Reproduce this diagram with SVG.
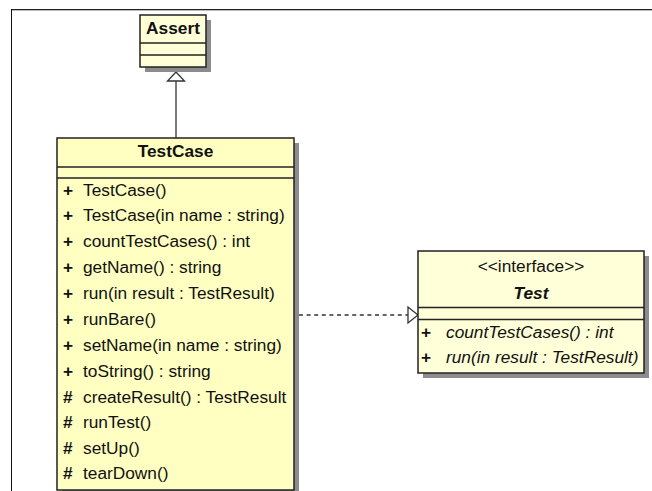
<svg xmlns="http://www.w3.org/2000/svg" width="652" height="491" viewBox="0 0 652 491">
<style>
text{font-family:"Liberation Sans",Arial,sans-serif;font-size:17.3px;fill:#111}
.b{font-weight:bold}
.i{font-style:italic}
.c{text-anchor:middle}
.box{stroke:#222;stroke-width:1.5}
.sh{fill:#8c8c8c}
.dv{stroke:#222;stroke-width:1.5}
.conn{stroke:#333;stroke-width:1.3;fill:none}
.head{stroke:#333;stroke-width:1.3;fill:#fff}
</style>
<g id="frame">
<line x1="11" y1="9.5" x2="652" y2="9.5" stroke="#222" stroke-width="1"/>
<line x1="12" y1="10.5" x2="652" y2="10.5" stroke="#bbb" stroke-width="1"/>
<line x1="11.5" y1="9" x2="11.5" y2="491" stroke="#111" stroke-width="1"/>
</g>
<g id="connectors">
<line class="conn" x1="176" y1="81" x2="176" y2="138"/>
<polygon class="head" points="176,72 167.5,81 184.5,81"/>
<line class="conn" x1="299" y1="315" x2="408" y2="315" stroke-dasharray="4,3.6"/>
<polygon class="head" points="418,315 408,307 408,323"/>
</g>
<g id="Assert">
<rect class="sh" x="145" y="20" width="66" height="52"/>
<rect class="box" x="140" y="15" width="66" height="52" fill="#FFFFD8"/>
<line class="dv" x1="140" y1="43" x2="206" y2="43"/>
<line class="dv" x1="140" y1="55" x2="206" y2="55"/>
<text class="b c" x="173" y="34">Assert</text>
</g>
<g id="TestCase">
<rect class="sh" x="62" y="143" width="237" height="352"/>
<rect class="box" x="57" y="138" width="237" height="352" fill="#FFFFC2"/>
<line class="dv" x1="57" y1="167" x2="294" y2="167"/>
<line class="dv" x1="57" y1="178" x2="294" y2="178"/>
<text class="b c" x="175.5" y="157">TestCase</text>
<g class="b">
<text x="63" y="196">+</text>
<text x="63" y="221">+</text>
<text x="63" y="247">+</text>
<text x="63" y="273">+</text>
<text x="63" y="299">+</text>
<text x="63" y="325">+</text>
<text x="63" y="351">+</text>
<text x="63" y="377">+</text>
<text x="63" y="403">#</text>
<text x="63" y="428">#</text>
<text x="63" y="454">#</text>
<text x="63" y="479">#</text>
</g>
<text x="83" y="196">TestCase()</text>
<text x="83" y="221">TestCase(in name : string)</text>
<text x="83" y="247">countTestCases() : int</text>
<text x="83" y="273">getName() : string</text>
<text x="83" y="299">run(in result : TestResult)</text>
<text x="83" y="325">runBare()</text>
<text x="83" y="351">setName(in name : string)</text>
<text x="83" y="377">toString() : string</text>
<text x="83" y="403">createResult() : TestResult</text>
<text x="83" y="428">runTest()</text>
<text x="83" y="454">setUp()</text>
<text x="83" y="479">tearDown()</text>
</g>
<g id="Test">
<rect class="sh" x="423" y="256" width="226" height="122"/>
<rect class="box" x="418" y="251" width="226" height="122" fill="#FFFFD8"/>
<line class="dv" x1="418" y1="307.5" x2="644" y2="307.5"/>
<line class="dv" x1="418" y1="319.5" x2="644" y2="319.5"/>
<text class="c" x="531" y="272">&lt;&lt;interface&gt;&gt;</text>
<text class="b i c" x="531" y="299">Test</text>
<text class="b" x="421" y="338">+</text>
<text class="b" x="421" y="363">+</text>
<text class="i" x="446" y="338">countTestCases() : int</text>
<text class="i" x="446" y="363">run(in result : TestResult)</text>
</g>
</svg>
